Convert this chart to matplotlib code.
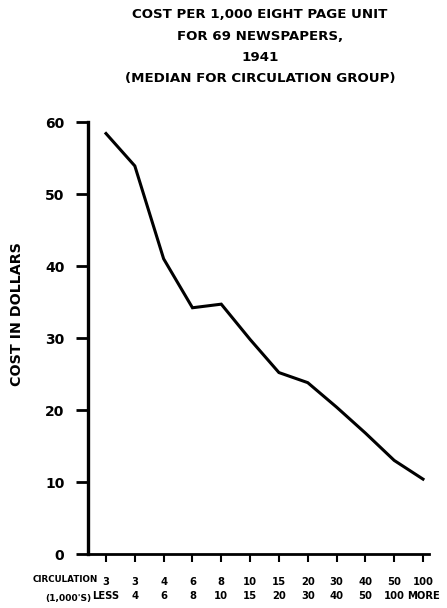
import numpy as np
import matplotlib
matplotlib.use("Agg")
import matplotlib.pyplot as plt

# ------ data ---------------------------
circ_low = ["3", "3", "4", "6", "8", "10", "15", "20", "30", "40", "50", "100"]
circ_high = ["LESS", "4", "6", "8", "10", "15", "20", "30", "40", "50", "100", "MORE"]
cost = [58.4, 53.9, 41.0, 34.2, 34.7, 29.8, 25.2, 23.8, 20.4, 16.8, 13.0, 10.4]
y_ticks = [0, 10, 20, 30, 40, 50, 60]

title_lines = ["COST PER 1,000 EIGHT PAGE UNIT",
               "FOR 69 NEWSPAPERS,",
               "1941",
               "(MEDIAN FOR CIRCULATION GROUP)"]

plt.rcParams['font.family'] = ['DejaVu Sans']
plt.rcParams['font.weight'] = 'bold'

W, H = 447, 608
fig = plt.figure(figsize=(W / 100, H / 100), dpi=100)

# axes box in pixel terms: y-axis at x=88, x-axis at y=554, top (60) at y=122
left, right, top, bottom = 88, 429, 122, 554
ax = fig.add_axes([left / W, 1 - bottom / H, (right - left) / W, (bottom - top) / H])

x = np.arange(len(cost))
ax.plot(x, cost, color='black', lw=2.2, solid_joinstyle='miter', clip_on=False)

step = (423 - 106) / 11
ax.set_xlim(-(106 - left) / step, 11 + (right - 423) / step)
ax.set_ylim(0, 60)

for s in ['top', 'right']:
    ax.spines[s].set_visible(False)
ax.spines['left'].set_linewidth(2.4)
ax.spines['bottom'].set_linewidth(2.0)

ax.set_yticks(y_ticks)
ax.set_yticklabels([str(v) for v in y_ticks], fontsize=10, fontweight='bold')
ax.tick_params(axis='y', direction='out', length=9, width=2, pad=8)

ax.set_xticks(x)
ax.set_xticklabels([f"{a}\n{b}" for a, b in zip(circ_low, circ_high)],
                   fontsize=7.2, fontweight='bold', linespacing=1.55)
ax.tick_params(axis='x', direction='out', length=5.5, width=1.5, pad=11)

ax.text(98 / W, 1 - 580 / H, "CIRCULATION", transform=fig.transFigure,
        ha='right', va='center', fontsize=6.3, fontweight='bold')
ax.text(91 / W, 1 - 598 / H, "(1,000'S)", transform=fig.transFigure,
        ha='right', va='center', fontsize=6.6, fontweight='bold')

ax.set_ylabel("COST IN DOLLARS", fontsize=10.3, fontweight='bold')
ax.yaxis.set_label_coords((24 - left) / (right - left), (bottom - 314) / (bottom - top))

for i, line in enumerate(title_lines):
    fig.text(260 / W, 1 - (15 + 21.3 * i) / H, line, ha='center', va='center',
             fontsize=9.6, fontweight='bold')

fig.savefig("out.png", dpi=100, facecolor='white')
